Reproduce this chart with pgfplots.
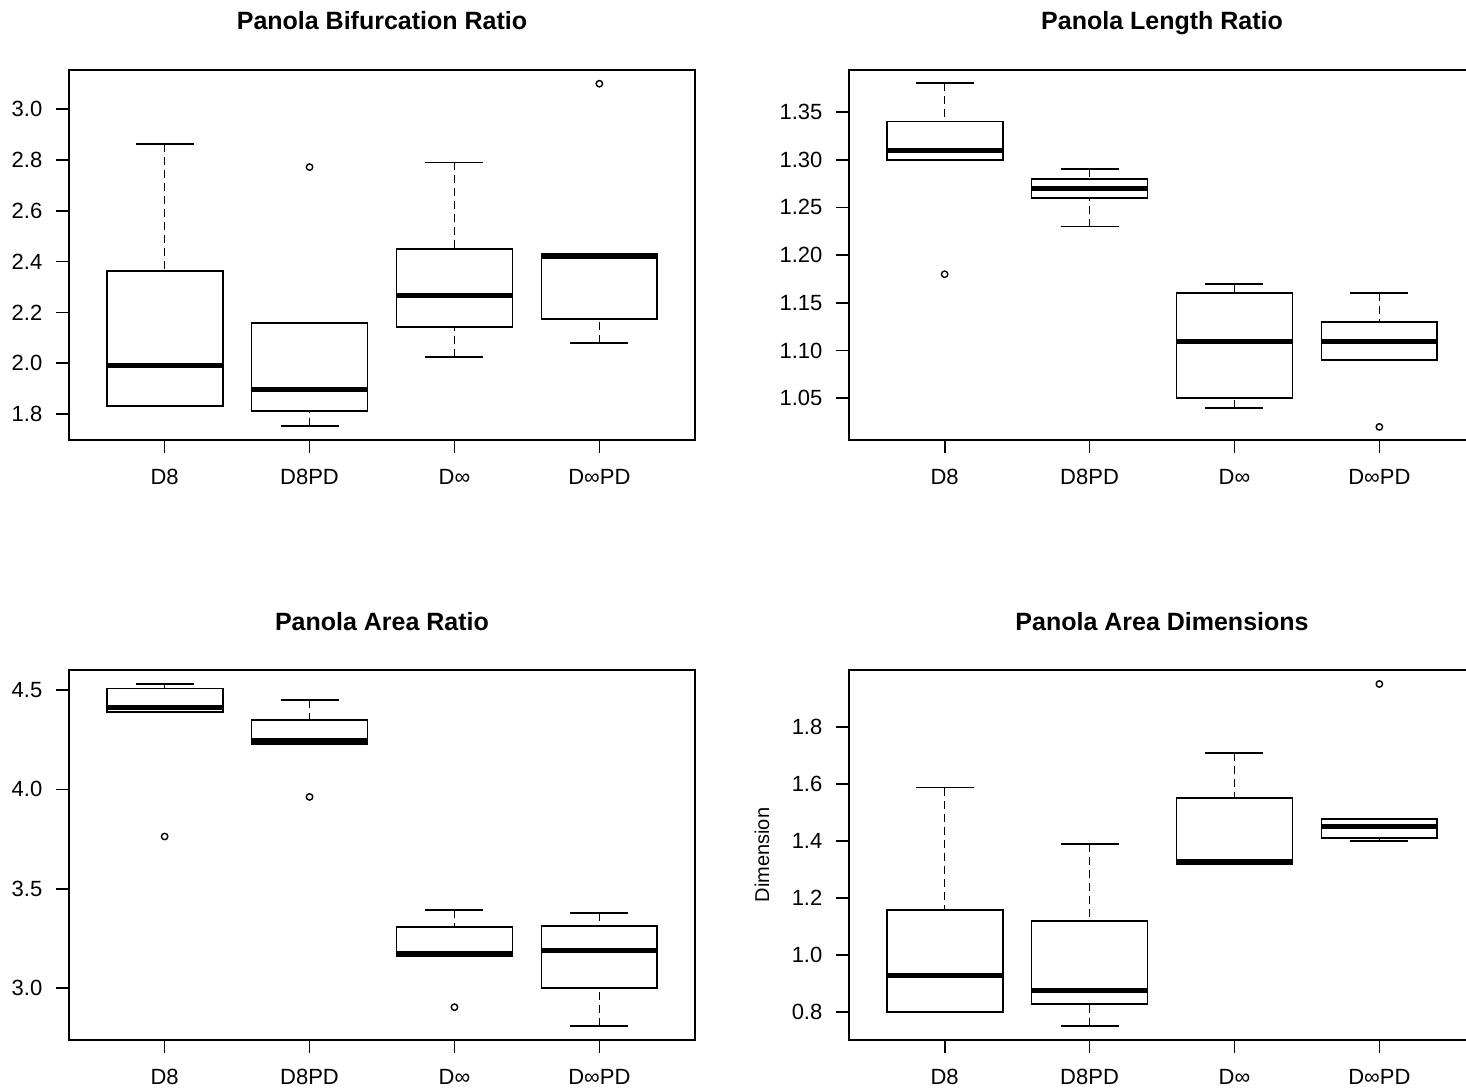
\documentclass[border=0pt]{standalone}
\usepackage{fontspec}
\setmainfont{Liberation Sans}
\usepackage{pgfplots}
\pgfplotsset{compat=1.18}
\usepgfplotslibrary{statistics}

\pgfplotsset{
  rbox/.style={
    scale only axis, width=313pt, height=185pt,
    xmin=0.34, xmax=4.66,
    xtick={1,2,3,4}, xticklabels={D8,D8PD,D∞,D∞PD},
    tick pos=left, tick align=outside, major tick length=6.5pt,
    axis line style={line width=0.85pt},
    every tick/.style={black, line width=0.85pt},
    ticklabel style={font=\fontsize{11}{13}\selectfont},
    xticklabel style={text height=8pt, text depth=0pt, yshift=-4.3pt},
    /pgf/number format/assume math mode=true,
    yticklabel style={xshift=-3.3pt, /pgf/number format/fixed, /pgf/number format/fixed zerofill},
    title style={font=\bfseries\fontsize{12.5}{15}\selectfont, text height=9pt, text depth=0pt, at={(0.5,1)}, anchor=center, yshift=18.5pt},
    boxplot/draw direction=y,
    boxplot/box extend=0.8, boxplot/whisker extend=0.4,
    boxplot/draw/lower whisker/.code={%
      \draw[dash pattern=on 4pt off 2.5pt, line width=0.75pt]
        (boxplot box cs:\pgfplotsboxplotvalue{lower whisker},0.5) --
        (boxplot box cs:\pgfplotsboxplotvalue{lower quartile},0.5);
      \draw[line width=0.9pt]
        (boxplot whisker cs:\pgfplotsboxplotvalue{lower whisker},0) --
        (boxplot whisker cs:\pgfplotsboxplotvalue{lower whisker},1);
    },
    boxplot/draw/upper whisker/.code={%
      \draw[dash pattern=on 4pt off 2.5pt, line width=0.75pt]
        (boxplot box cs:\pgfplotsboxplotvalue{upper whisker},0.5) --
        (boxplot box cs:\pgfplotsboxplotvalue{upper quartile},0.5);
      \draw[line width=0.9pt]
        (boxplot whisker cs:\pgfplotsboxplotvalue{upper whisker},0) --
        (boxplot whisker cs:\pgfplotsboxplotvalue{upper whisker},1);
    },
    boxplot/every median/.style={line width=2.5pt},
    boxplot/every box/.style={line width=0.9pt, fill=white, draw=black},
  },
}

\newcommand{\rbx}[7]{\addplot[black, mark=o, mark size=1.6pt, mark options={line width=0.7pt, solid},
  boxplot prepared={draw position=#1, lower whisker=#2, lower quartile=#3, median=#4,
  upper quartile=#5, upper whisker=#6}] coordinates {#7};}

\begin{document}
\begin{tikzpicture}
% Top-left
\begin{axis}[rbox, at={(34.5pt,324pt)}, anchor=south west,
  ymin=1.698, ymax=3.154, ytick={1.8,2.0,2.2,2.4,2.6,2.8,3.0},
  yticklabel style={/pgf/number format/precision=1},
  title={Panola Bifurcation Ratio}]
\rbx{1}{1.83}{1.832}{1.993}{2.363}{2.863}{}
\rbx{2}{1.752}{1.813}{1.895}{2.159}{2.159}{(0,2.772)}
\rbx{3}{2.025}{2.142}{2.265}{2.45}{2.79}{}
\rbx{4}{2.079}{2.173}{2.42}{2.431}{2.431}{(0,3.10)}
\end{axis}
% Top-right
\begin{axis}[rbox, at={(424.5pt,324pt)}, anchor=south west,
  ymin=1.0063, ymax=1.394, ytick={1.05,1.10,1.15,1.20,1.25,1.30,1.35},
  yticklabel style={/pgf/number format/precision=2},
  title={Panola Length Ratio}]
\rbx{1}{1.30}{1.30}{1.31}{1.34}{1.38}{(0,1.18)}
\rbx{2}{1.23}{1.26}{1.27}{1.28}{1.29}{}
\rbx{3}{1.04}{1.05}{1.11}{1.16}{1.17}{}
\rbx{4}{1.09}{1.09}{1.11}{1.13}{1.16}{(0,1.02)}
\end{axis}
% Bottom-left
\begin{axis}[rbox, at={(34.5pt,24pt)}, anchor=south west,
  ymin=2.74, ymax=4.60, ytick={3.0,3.5,4.0,4.5},
  yticklabel style={/pgf/number format/precision=1},
  title={Panola Area Ratio}]
\rbx{1}{4.388}{4.388}{4.413}{4.507}{4.53}{(0,3.763)}
\rbx{2}{4.23}{4.23}{4.244}{4.35}{4.45}{(0,3.962)}
\rbx{3}{3.164}{3.164}{3.175}{3.308}{3.395}{(0,2.905)}
\rbx{4}{2.81}{3.0}{3.19}{3.315}{3.377}{}
\end{axis}
% Bottom-right
\begin{axis}[rbox, at={(424.5pt,24pt)}, anchor=south west,
  ymin=0.702, ymax=1.999, ytick={0.8,1.0,1.2,1.4,1.6,1.8},
  yticklabel style={/pgf/number format/precision=1},
  ylabel={Dimension},
  ylabel style={font=\fontsize{10}{12}\selectfont, at={(axis description cs:-0.139,0.5)}, anchor=center},
  title={Panola Area Dimensions}]
\rbx{1}{0.80}{0.80}{0.927}{1.158}{1.587}{}
\rbx{2}{0.751}{0.828}{0.877}{1.119}{1.389}{}
\rbx{3}{1.318}{1.318}{1.326}{1.55}{1.708}{}
\rbx{4}{1.40}{1.41}{1.45}{1.476}{1.476}{(0,1.95)}
\end{axis}
\pgfresetboundingbox
\useasboundingbox (0,0) rectangle (733pt,544pt);
\end{tikzpicture}
\end{document}
